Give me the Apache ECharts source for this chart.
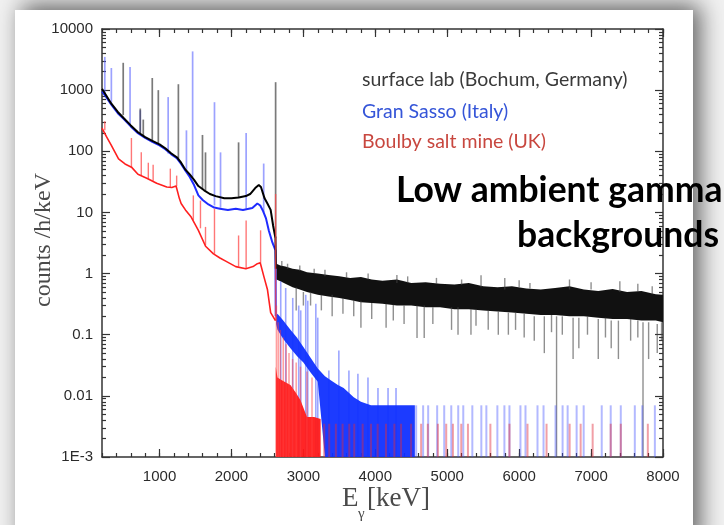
<!DOCTYPE html>
<html>
<head>
<meta charset="utf-8">
<script src="https://cdn.jsdelivr.net/npm/echarts@6/dist/echarts.min.js"></script>
<style>
  html, body { margin: 0; padding: 0; background: #fff; }
  #body-con { width: 724px; height: 525px; }
</style>
</head>
<body>
<div id="body-con"></div>
<script>
// axes
var xMin = 200, xMax = 8000, xMinorStep = 200;
var xLabels = [1000, 2000, 3000, 4000, 5000, 6000, 7000, 8000];
var yMin = 0.001, yMax = 10000;
var yMajor = [0.001, 0.01, 0.1, 1, 10, 100, 1000, 10000];
var yMajorText = ['1E-3', '0.01', '0.1', '1', '10', '100', '1000', '10000'];
var yMinorMult = [2, 3, 4, 5, 6, 7, 8, 9];

// continuum below 2614 keV  [keV, counts/h/keV]
var blackLow = [[200,1050],[250,850],[330,600],[420,440],[500,350],[600,265],[700,205],[800,170],[900,148],
  [1000,130],[1080,112],[1160,93],[1240,80],[1300,65],[1360,50],[1420,42],[1480,34],[1540,27],[1620,23],
  [1700,20],[1780,18.5],[1900,17],[2000,17],[2100,17.5],[2200,18.5],[2260,20],[2330,25],[2380,28],[2410,26],
  [2460,17],[2500,14],[2545,11],[2580,6],[2605,4.2],[2612,3.8],[2618,1.2]];
var blueLow = [[200,950],[250,800],[330,580],[420,420],[500,340],[600,255],[700,198],[800,165],[900,143],
  [1000,125],[1080,108],[1160,90],[1240,77],[1300,62],[1360,48],[1420,38],[1480,28],[1540,19],[1600,16],
  [1680,13.5],[1760,12],[1840,11.5],[1950,11],[2060,11.5],[2160,11],[2290,11.8],[2360,14],[2400,13],
  [2440,10.5],[2480,8],[2520,5],[2570,3.2],[2612,2.4],[2616,0.2]];
var redLow = [[200,240],[260,175],[330,125],[430,75],[520,62],[610,55],[700,42],[830,36],[960,30],[1100,26],
  [1170,25.5],[1230,27],[1250,26],[1275,17],[1300,14],[1360,11],[1440,8.4],[1540,5.1],[1640,2.8],[1750,2.1],
  [1840,1.8],[1920,1.6],[2060,1.3],[2200,1.2],[2300,1.3],[2360,1.45],[2400,1.5],[2450,0.9],[2500,0.55],
  [2545,0.23],[2612,0.17]];

// gamma lines  [keV, base, top]
var blackPeaks = [[495,390,2800],[732,195,500],[774,180,330],[899,145,1580],[983,128,1000],[1262,76,1250],
  [1597,24,185],[1639,23,96],[2099,17.5,140],[2614,3.8,1350]];
var bluePeaks = [[239,900,3500],[330,620,2300],[590,260,2400],[732,200,470],[1120,92,770],[1374,46,220],
  [1460,38,4300],[1764,13,635],[1848,11.5,96],[2204,11.5,200],[2448,10,63]];
var redPeaks = [[239,220,310],[609,55,165],[746,40,96],[844,36,65],[911,33,60],[1150,25.5,52],[1238,27,40],
  [1470,7.5,19],[1569,5.5,15.6],[1639,2.9,5.8],[1764,2.1,11.5],[2099,1.3,4.2],[2204,1.2,7.4],[2405,1.5,5.1],
  [2614,0.17,20]];

// surface lab above 2614 keV: dense noise band and single spikes
var bandE  = [2625,2680,2750,2850,2950,3050,3200,3350,3500,3650,3800,3950,4100,4300,4500,4700,4900,5100,5300,
  5500,5700,5900,6100,6300,6500,6700,6900,7100,7300,7500,7700,7900,8000];
var bandHi = [1.45,1.35,1.3,1.2,1.15,1.05,1.0,0.95,0.9,0.85,0.88,0.8,0.76,0.8,0.7,0.72,0.68,0.66,0.7,
  0.62,0.6,0.62,0.57,0.55,0.58,0.62,0.55,0.52,0.56,0.5,0.52,0.46,0.45];
var bandLo = [0.8,0.75,0.68,0.6,0.55,0.5,0.45,0.42,0.4,0.37,0.34,0.33,0.32,0.3,0.3,0.28,0.28,0.26,0.26,
  0.25,0.24,0.23,0.22,0.21,0.21,0.2,0.2,0.19,0.18,0.18,0.17,0.17,0.16];
var bandSpikes = [[2900,0.25,0.6],[3000,0.3,0.5],[3100,0.3,0.5],[3250,0.25,0.45],[3400,0.2,0.45],
  [3550,0.22,0.4],[3700,0.2,0.37],[3800,0.13,0.36],[3950,0.18,0.33],[4150,0.13,0.32],[4250,0.17,0.31],
  [4400,0.15,0.3],[4580,0.088,0.3],[4680,0.088,0.3],[4800,0.15,0.28],[5060,0.12,0.28],[5150,0.1,0.28],
  [5330,0.1,0.26],[5400,0.14,0.26],[5570,0.12,0.25],[5710,0.1,0.24],[5850,0.1,0.23],[5950,0.12,0.23],
  [6070,0.09,0.22],[6210,0.08,0.2],[6350,0.05,0.2],[6450,0.11,0.21],[6520,0.001,0.2],[6600,0.1,0.2],
  [6750,0.04,0.19],[6830,0.06,0.19],[6950,0.1,0.2],[7100,0.04,0.18],[7200,0.09,0.19],[7280,0.06,0.17],
  [7380,0.04,0.17],[7550,0.08,0.18],[7650,0.09,0.17],[7722,0.001,0.16],[7800,0.04,0.16],[7920,0.05,0.15],
  [7980,0.08,0.16],
  [2700,1.3,1.6],[2780,1.2,1.45],[2950,1.1,1.35],[3150,1.0,1.2],[3300,0.9,1.15],[3600,0.85,1.05],
  [3900,0.8,1.0],[4300,0.7,0.95],[4450,0.7,0.9],[4850,0.68,0.85],[5200,0.65,0.8],[5470,0.6,0.94],
  [5800,0.55,0.85],[6000,0.6,0.78],[6150,0.57,0.7],[6700,0.55,0.8],[7000,0.55,0.72],[7400,0.5,0.75],
  [7650,0.5,0.68],[7850,0.46,0.62]];

// Gran Sasso above 2614 keV
var blueDenseE  = [2620,2640,2720,2820,2910,3000,3100,3200,3300,3380,3480,3560,3700,3800,3940,4100,4300,4550];
var blueDenseHi = [0.2,0.22,0.17,0.12,0.09,0.063,0.042,0.028,0.021,0.018,0.015,0.0135,0.0095,0.008,0.007,0.007,0.007,0.007];
var blueDenseLo = [0.15,0.12,0.085,0.06,0.045,0.035,0.024,0.017,0.001,0.001,0.001,0.001,0.001,0.001,0.001,0.001,0.001,0.001];
var blueHiSpikes = [[2685,0.75],[2754,0.58],[2852,0.4],[2935,0.3],[2963,0.25],[3033,0.45],[3061,0.36],
  [3173,0.32],[3200,0.19],[3354,0.026],[3493,0.055],[3633,0.026],[3758,0.023],[3898,0.02],[4037,0.0135],
  [4177,0.0135],[4288,0.0135]];
var blueCountLevel = 0.007;
var blueCountE = [4568,4665,4735,4860,4958,5056,5153,5223,5349,5474,5544,5697,5795,5865,6018,6088,6255,
  6339,6506,6604,6674,6799,6897,7148,7273,7413,7608,7712,7887];

// Boulby above 2614 keV
var redDenseE  = [2616,2640,2700,2820,2900,2960,3050,3150,3240];
var redDenseHi = [0.03,0.02,0.018,0.015,0.011,0.0085,0.0045,0.0045,0.0042];
var redHiSpikes = [[2625,0.3],[2650,0.16],[2680,0.12],[2720,0.09],[2760,0.07],[2800,0.05],[2850,0.04],
  [2900,0.035],[2960,0.03],[3050,0.025],[3120,0.02]];
var redCountLevel = 0.0035;
var redCountE = [3289,3359,3452,3545,3638,3707,3824,3940,4033,4149,4265,4358,4497,4637,4730,4870,4986,
  5079,5195,5288,5600,5865,6116,6381,6702,6855,7022,7273,7413,7789];

var yMinor = [];
yMajor.slice(0, -1).forEach(function (d) {
  yMinorMult.forEach(function (m) { yMinor.push(+(d * m).toPrecision(3)); });
});

function segSeries(data, color, width, opacity, z) {
  return {
    type: 'custom', data: data, clip: true, z: z, silent: true,
    encode: { x: 0, y: [1, 2] },
    renderItem: function (params, api) {
      var a = api.coord([api.value(0), api.value(1)]);
      var b = api.coord([api.value(0), api.value(2)]);
      return { type: 'line', shape: { x1: a[0], y1: a[1], x2: b[0], y2: b[1] },
        style: { stroke: color, lineWidth: width, opacity: opacity } };
    }
  };
}
function bandSeries(E, lo, hi, color, opacity, z) {
  return {
    type: 'custom', clip: true, z: z, silent: true,
    data: E.map(function (e, i) { return [e, lo[i], hi[i]]; }),
    encode: { x: 0, y: [1, 2] },
    renderItem: function (params, api) {
      if (params.dataIndex !== 0) return null;
      var top = [], bot = [];
      for (var i = 0; i < E.length; i++) {
        top.push(api.coord([E[i], hi[i]]));
        bot.unshift(api.coord([E[i], lo[i]]));
      }
      return { type: 'polygon', shape: { points: top.concat(bot) }, style: { fill: color, opacity: opacity } };
    }
  };
}
function lineSeries(data, color, width, z) {
  return { type: 'line', data: data, showSymbol: false, symbol: 'none', z: z, silent: true,
    lineStyle: { color: color, width: width } };
}

var axisColor = '#333';
function xAx(pos, major, labels) {
  return {
    type: 'value', min: xMin, max: xMax, interval: xMinorStep, position: pos,
    splitLine: { show: false },
    axisLine: { show: !major, lineStyle: { color: axisColor, width: 1.5 } },
    axisTick: major ? { show: true, inside: true, length: 8, customValues: xLabels, lineStyle: { color: axisColor, width: 1.2 } }
                    : { show: true, inside: true, length: 4, lineStyle: { color: axisColor, width: 1.2 } },
    axisLabel: labels ? { customValues: xLabels, fontSize: 15, color: '#2b2b2b', fontFamily: 'Liberation Sans', margin: 12,
                          formatter: function (v) { return String(v); } }
                      : { show: false }
  };
}
function yAx(pos, major, labels) {
  return {
    type: 'log', logBase: 10, min: yMin, max: yMax, position: pos,
    splitLine: { show: false },
    axisLine: { show: major, lineStyle: { color: axisColor, width: 1.5 } },
    axisTick: { show: true, inside: true, length: major ? 8 : 4, customValues: major ? yMajor : yMinor,
      lineStyle: { color: axisColor, width: 1.2 } },
    axisLabel: labels ? {
      customValues: yMajor, fontSize: 15, color: '#2b2b2b', fontFamily: 'Liberation Sans', margin: 9,
      formatter: function (v) {
        for (var i = 0; i < yMajor.length; i++) {
          if (Math.abs(Math.log10(v) - Math.log10(yMajor[i])) < 0.01) return yMajorText[i];
        }
        return '';
      }
    } : { show: false }
  };
}

var myChart = echarts.init(document.getElementById('body-con'));
var option = {
  animation: false,
  backgroundColor: '#f1f1f1',
  grid: { left: 102, right: 61, top: 29, bottom: 68 },
  xAxis: [xAx('bottom', false, true), xAx('bottom', true, false), xAx('top', false, false), xAx('top', true, false)],
  yAxis: [yAx('left', true, true), yAx('left', false, false), yAx('right', true, false), yAx('right', false, false)],
  graphic: [
    { type: 'rect', z: -10, shape: { x: 15, y: 10, width: 678, height: 540 },
      style: { fill: '#fff', shadowBlur: 22, shadowOffsetX: 7, shadowOffsetY: -5, shadowColor: 'rgba(0,0,0,0.6)' } },
    { type: 'text', z: 50, x: 44, y: 240, rotation: Math.PI / 2,
      style: { text: 'counts /h/keV', fill: '#4a4a4a', font: '24px "Liberation Serif"', align: 'center', verticalAlign: 'middle' } },
    { type: 'text', z: 50, x: 342, y: 512,
      style: { text: 'E', fill: '#4a4a4a', font: '27px "Liberation Serif"', align: 'left', verticalAlign: 'bottom' } },
    { type: 'text', z: 50, x: 358, y: 522,
      style: { text: 'γ', fill: '#4a4a4a', font: '15px "Liberation Serif"', align: 'left', verticalAlign: 'bottom' } },
    { type: 'text', z: 50, x: 367, y: 512,
      style: { text: '[keV]', fill: '#4a4a4a', font: '27px "Liberation Serif"', align: 'left', verticalAlign: 'bottom' } },
    { type: 'text', z: 50, x: 362, y: 80,
      style: { text: 'surface lab (Bochum, Germany)', fill: '#3a3a3a', font: '19.5px Lato', verticalAlign: 'middle' } },
    { type: 'text', z: 50, x: 362, y: 112,
      style: { text: 'Gran Sasso (Italy)', fill: '#3555d8', font: '19.5px Lato', verticalAlign: 'middle' } },
    { type: 'text', z: 50, x: 362, y: 142,
      style: { text: 'Boulby salt mine (UK)', fill: '#c8473f', font: '19.5px Lato', verticalAlign: 'middle' } },
    { type: 'text', z: 60, x: 396, y: 191,
      style: { text: 'Low ambient gamma', fill: '#000', font: 'bold 35.5px Lato', verticalAlign: 'middle' } },
    { type: 'text', z: 60, x: 719, y: 236,
      style: { text: 'backgrounds', fill: '#000', font: 'bold 35.5px Lato', align: 'right', verticalAlign: 'middle' } }
  ],
  series: [
    bandSeries(bandE, bandLo, bandHi, '#111', 1, 3),
    segSeries(bandSpikes, '#444', 1.4, 0.6, 3),
    segSeries(bluePeaks, '#5a64ff', 1.7, 0.6, 4),
    segSeries(blackPeaks, '#333', 1.7, 0.65, 4),
    lineSeries(blueLow, '#1f2cff', 2, 5),
    lineSeries(blackLow, '#000', 2, 6),
    segSeries(blueHiSpikes.map(function (p) { return [p[0], yMin, p[1]]; }), '#4a5cff', 1.6, 0.55, 5),
    segSeries(blueCountE.map(function (e) { return [e, yMin, blueCountLevel]; }), '#4050ff', 2, 0.4, 5),
    bandSeries(blueDenseE, blueDenseLo, blueDenseHi, '#1030ff', 0.95, 6),
    segSeries(redPeaks, '#ff4a4a', 1.4, 0.75, 7),
    lineSeries(redLow, '#ff2020', 1.6, 7),
    bandSeries(redDenseE, redDenseE.map(function () { return yMin; }), redDenseHi, '#ff1a1a', 0.95, 7),
    segSeries(redHiSpikes.map(function (p) { return [p[0], yMin, p[1]]; }), '#ff4040', 1.5, 0.5, 7),
    segSeries(redCountE.map(function (e) { return [e, yMin, redCountLevel]; }), '#e02a3a', 2, 0.45, 7)
  ]
};
myChart.setOption(option);
</script>
</body>
</html>
